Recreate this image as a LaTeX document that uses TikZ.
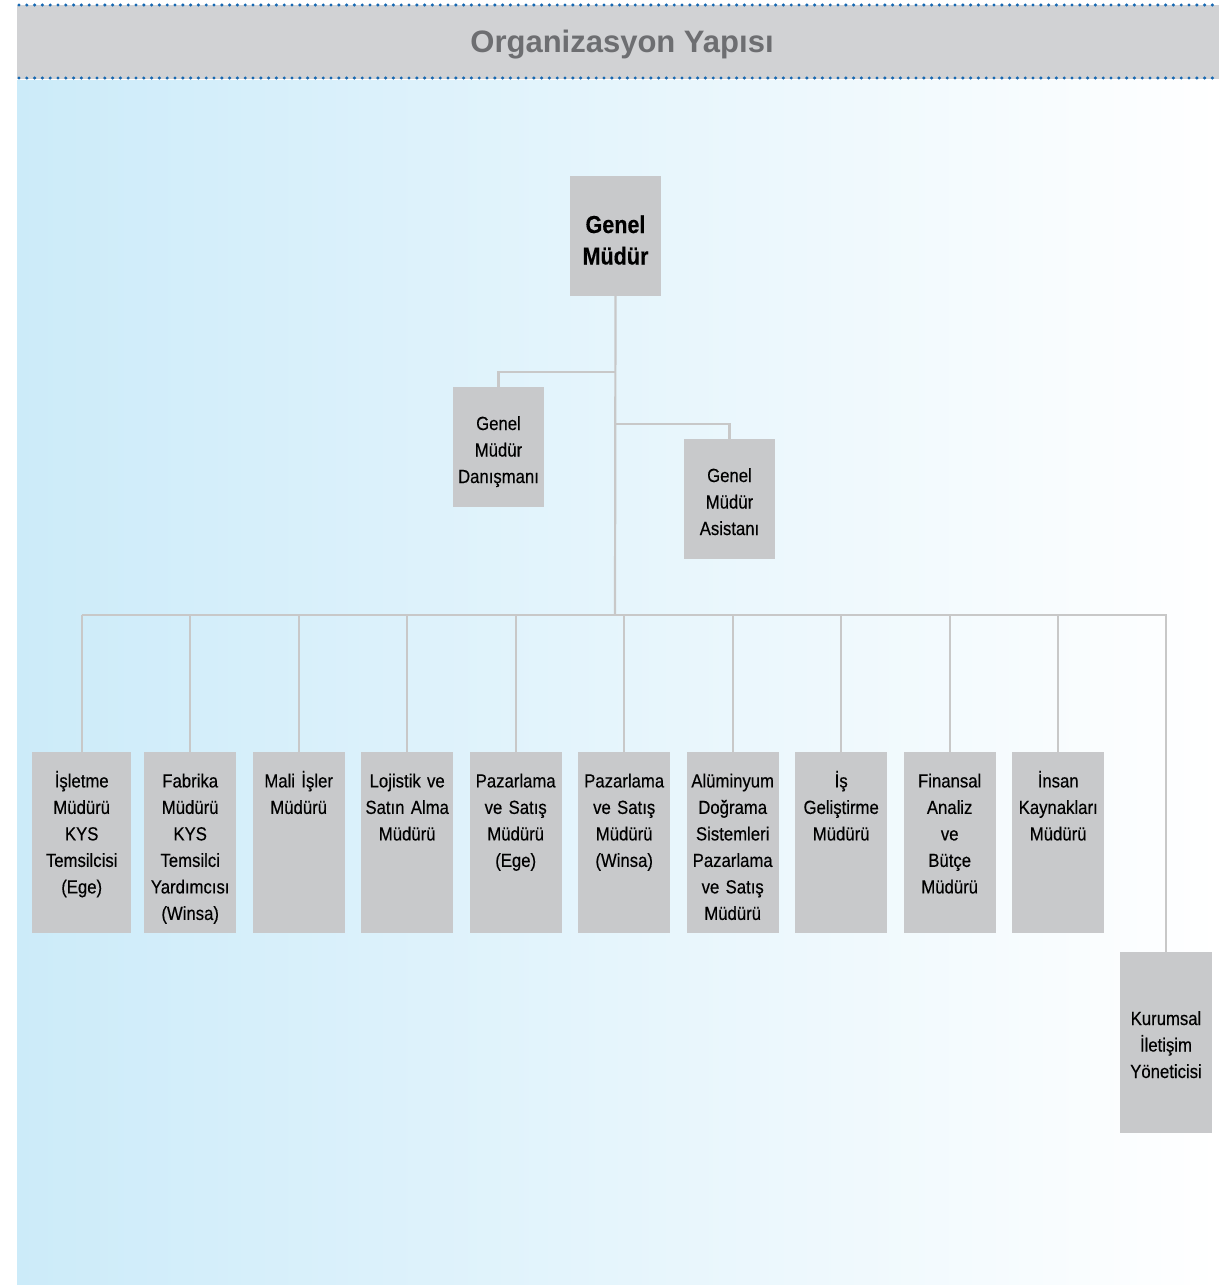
\documentclass[tikz,border=0pt]{standalone}
\usepackage{fontspec}
\setmainfont{Liberation Sans}[FakeStretch=0.88, FakeBold=0.35]
\newfontfamily\titlefont{Liberation Sans}
\usetikzlibrary{matrix}

\definecolor{boxgray}{RGB}{200,201,203}
\definecolor{bandgray}{RGB}{209,210,212}
\definecolor{titlegray}{RGB}{109,110,113}
\definecolor{dotblue}{RGB}{22,104,178}
\definecolor{skyblue}{RGB}{204,235,249}
\definecolor{linegray}{RGB}{200,200,200}

\tikzset{
	unit/.style={fill=boxgray, inner sep=0pt, text width=92pt, align=center, font=\fontsize{19}{26.5}\selectfont},
	head/.style={unit, text width=91pt, text height=43pt, text depth=77pt},
	lower/.style={unit, text height=35pt, text depth=146pt},
	link/.style={draw=linegray, line width=2.2pt, line join=miter},
	dots/.style={draw=dotblue, line width=3.4pt, line cap=round, dash pattern=on 0pt off 7.8pt}
}

\begin{document}
\begin{tikzpicture}[x=1pt,y=-1pt]
\useasboundingbox (0,0) rectangle (1219,1285);
% background and title band
\shade[left color=skyblue, right color=white] (17,80) rectangle (1219,1285);
\fill[bandgray] (17,5) rectangle (1219,79);
\draw[dots] (19,5) -- (1219,5);
\draw[dots] (19,78) -- (1219,78);
\node[font=\titlefont\bfseries\fontsize{31}{36}\selectfont, text=titlegray] (title) at (622,45) {Organizasyon Yapısı};

% top of the chart
\node[head, font=\bfseries\fontsize{24.5}{31.5}\selectfont, text height=57pt, text depth=63pt] (gm) at (615.5,236) {Genel\\Müdür};
\node[head] (dan) at (498.5,447) {Genel\\Müdür\\Danışmanı};
\node[head] (asi) at (729.5,499) {Genel\\Müdür\\Asistanı};

% managers
\matrix (row) [anchor=north west, inner sep=0pt, column sep=16.5pt] at (32,752)
{
	\node[lower, text width=99pt] (e1) {İşletme\\Müdürü\\KYS\\Temsilcisi\\(Ege)}; &[-3.5pt]
	\node[lower] (e2) {Fabrika\\Müdürü\\KYS\\Temsilci\\Yardımcısı\\(Winsa)}; &
	\node[lower] (e3) {Mali İşler\\Müdürü}; &
	\node[lower] (e4) {Lojistik ve\\Satın Alma\\Müdürü}; &
	\node[lower] (e5) {Pazarlama\\ve Satış\\Müdürü\\(Ege)}; &
	\node[lower] (e6) {Pazarlama\\ve Satış\\Müdürü\\(Winsa)}; &
	\node[lower] (e7) {Alüminyum\\Doğrama\\Sistemleri\\Pazarlama\\ve Satış\\Müdürü}; &
	\node[lower] (e8) {İş\\Geliştirme\\Müdürü}; &
	\node[lower] (e9) {Finansal\\Analiz\\ve\\Bütçe\\Müdürü}; &
	\node[lower] (e10) {İnsan\\Kaynakları\\Müdürü}; \\
};
\node[unit, text height=73pt, text depth=108pt] (kur) at (1166,1042.5) {Kurumsal\\İletişim\\Yöneticisi};

% connectors
\coordinate (bus) at (615,615);
\coordinate (jdan) at (615,372);
\coordinate (jasi) at (615,424);
\draw[link] (gm.south) -- (bus);
\draw[link] (jdan) -| (dan.north);
\draw[link] (jasi) -| (asi.north);
\draw[link] (e1.north |- bus) -- (kur.north |- bus) -- (kur.north);
\foreach \i in {1,...,10}
	\draw[link] (e\i.north) -- (e\i.north |- bus);
\end{tikzpicture}
\end{document}
